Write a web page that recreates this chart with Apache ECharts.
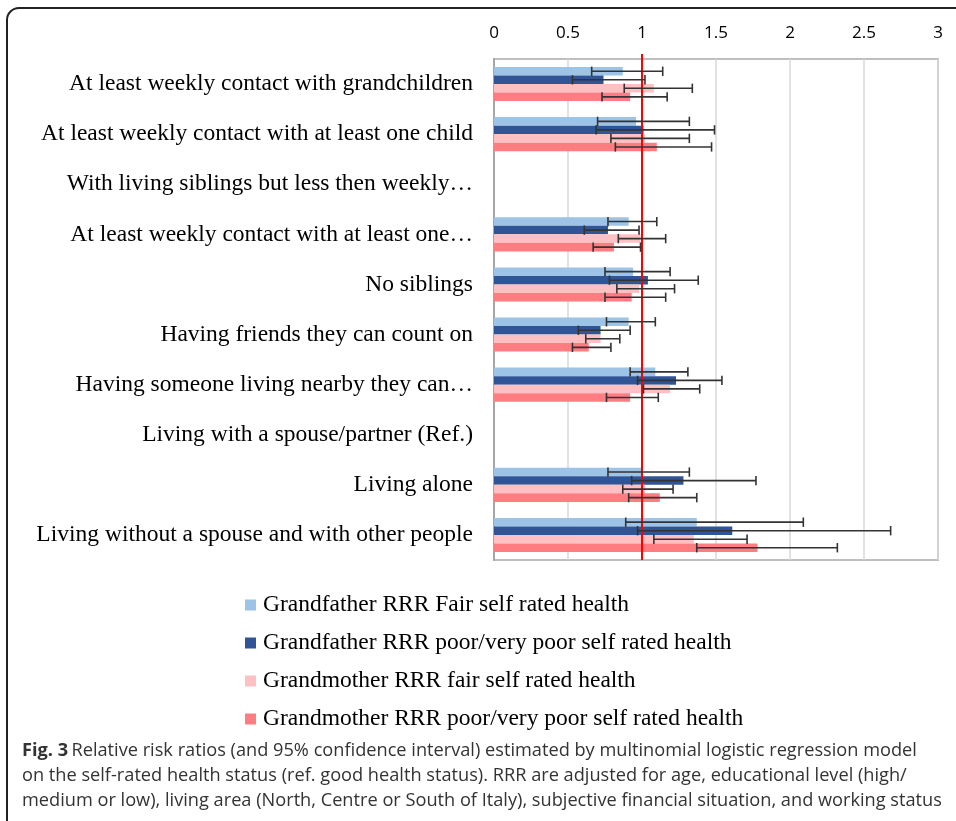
<!DOCTYPE html>
<html><head><meta charset="utf-8">
<script src="https://cdn.jsdelivr.net/npm/echarts@6/dist/echarts.min.js"></script>
<style>html,body{margin:0;padding:0;background:#fff}#c{width:956px;height:821px}</style>
</head><body><div id="c"></div>
<script>
const categories = [
  "At least weekly contact with grandchildren",
  "At least weekly contact with at least one child",
  "With living siblings but less then weekly…",
  "At least weekly contact with at least one…",
  "No siblings",
  "Having friends they can count on",
  "Having someone living nearby they can…",
  "Living with a spouse/partner (Ref.)",
  "Living alone",
  "Living without a spouse and with other people"
];
const xTicks = [0, 0.5, 1, 1.5, 2, 2.5, 3];
const seriesNames = [
  "Grandfather RRR Fair self rated health",
  "Grandfather RRR poor/very poor self rated health",
  "Grandmother RRR fair self rated health",
  "Grandmother RRR poor/very poor self rated health"
];
const gfFair     = [0.87, 0.96, null, 0.91, 0.94, 0.91, 1.09, null, 1.00, 1.37];
const gfFairLow  = [0.66, 0.70, null, 0.77, 0.75, 0.76, 0.92, null, 0.77, 0.89];
const gfFairHigh = [1.14, 1.32, null, 1.10, 1.19, 1.09, 1.31, null, 1.32, 2.09];
const gfPoor     = [0.74, 1.01, null, 0.77, 1.04, 0.72, 1.23, null, 1.28, 1.61];
const gfPoorLow  = [0.53, 0.69, null, 0.61, 0.78, 0.57, 0.97, null, 0.93, 0.97];
const gfPoorHigh = [1.02, 1.49, null, 0.98, 1.38, 0.92, 1.54, null, 1.77, 2.68];
const gmFair     = [1.08, 1.02, null, 0.99, 0.98, 0.72, 1.19, null, 1.02, 1.35];
const gmFairLow  = [0.88, 0.79, null, 0.84, 0.83, 0.62, 1.01, null, 0.87, 1.08];
const gmFairHigh = [1.34, 1.32, null, 1.16, 1.22, 0.85, 1.39, null, 1.21, 1.71];
const gmPoor     = [0.92, 1.10, null, 0.81, 0.93, 0.64, 0.92, null, 1.12, 1.78];
const gmPoorLow  = [0.73, 0.82, null, 0.67, 0.75, 0.53, 0.76, null, 0.91, 1.37];
const gmPoorHigh = [1.17, 1.47, null, 0.99, 1.16, 0.79, 1.11, null, 1.37, 2.32];
const refValue = 1;

const values = [gfFair, gfPoor, gmFair, gmPoor];
const lows = [gfFairLow, gfPoorLow, gmFairLow, gmPoorLow];
const highs = [gfFairHigh, gfPoorHigh, gmFairHigh, gmPoorHigh];
const colors = ['#9DC3E6', '#2F5597', '#FFC0C4', '#FF7C80'];
const catGap = 0.32;

const chart = echarts.init(document.getElementById('c'));
const series = [];
values.forEach((v, i) => {
  series.push({
    name: seriesNames[i], type: 'bar', data: v,
    barGap: 0, barCategoryGap: (catGap * 100) + '%',
    itemStyle: { color: colors[i] }, z: 2
  });
});
series.push({
  type: 'custom', name: 'ref', z: 3, clip: false,
  data: [[refValue, 0]],
  renderItem: function (params, api) {
    const p = api.coord([api.value(0), 0]);
    const cs = params.coordSys;
    return { type: 'line', shape: { x1: p[0], y1: cs.y - 5, x2: p[0], y2: cs.y + cs.height },
      style: { stroke: '#FF0000', lineWidth: 2 } };
  }
});
values.forEach((v, i) => {
  const d = [];
  lows[i].forEach((lo, k) => { if (lo != null) d.push([k, lo, highs[i][k]]); });
  series.push({
    type: 'custom', name: 'err' + i, z: 4,
    encode: { x: [1, 2], y: 0 },
    data: d,
    renderItem: function (params, api) {
      const k = api.value(0);
      const a = api.coord([api.value(1), k]);
      const b = api.coord([api.value(2), k]);
      const band = api.size([0, 1])[1];
      const bw = band * (1 - catGap) / 4;
      const y = a[1] - band * (1 - catGap) / 2 + bw * (i + 0.5);
      const h = bw * 0.55;
      const st = { stroke: '#333333', lineWidth: 1.6 };
      return { type: 'group', children: [
        { type: 'line', shape: { x1: a[0], y1: y, x2: b[0], y2: y }, style: st },
        { type: 'line', shape: { x1: a[0], y1: y - h, x2: a[0], y2: y + h }, style: st },
        { type: 'line', shape: { x1: b[0], y1: y - h, x2: b[0], y2: y + h }, style: st }
      ]};
    }
  });
});

const captionFont = '18.2px "Open Sans", sans-serif';
chart.setOption({
  animation: false,
  backgroundColor: '#fff',
  grid: { left: 494, top: 59, right: 18, bottom: 261, show: true, borderColor: '#bfbfbf', borderWidth: 2 },
  xAxis: {
    type: 'value', position: 'top', min: xTicks[0], max: xTicks[xTicks.length - 1], interval: 0.5,
    axisLine: { show: false }, axisTick: { show: false },
    splitLine: { lineStyle: { color: '#d9d9d9', width: 1.5 } },
    axisLabel: { margin: 17, fontSize: 17, color: '#000', fontFamily: '"Liberation Sans Narrow", "Open Sans", sans-serif' }
  },
  yAxis: {
    type: 'category', data: categories, inverse: true,
    axisTick: { show: false },
    axisLine: { show: true, lineStyle: { color: '#a6a6a6', width: 2 } },
    axisLabel: { margin: 21, fontSize: 23.5, color: '#000', fontFamily: '"Liberation Serif", "Times New Roman", serif' }
  },
  legend: {
    data: seriesNames, orient: 'vertical', left: 240, top: 588,
    itemWidth: 11, itemHeight: 11, itemGap: 14, icon: 'rect',
    textStyle: { fontSize: 23.5, color: '#000', fontFamily: '"Liberation Serif", "Times New Roman", serif', padding: [0, 0, 0, 2] }
  },
  graphic: [
    { type: 'rect', shape: { x: 7, y: 8, width: 1000, height: 900, r: 12 }, style: { fill: 'none', stroke: '#222', lineWidth: 2 }, silent: true },
    { type: 'text', left: 22, top: 742, style: { rich: { b: { font: 'bold 18.2px "Open Sans", sans-serif', fill: '#333' }, n: { font: captionFont, fill: '#333' } },
      text: '{b|Fig. 3} {n|Relative risk ratios (and 95% confidence interval) estimated by multinomial logistic regression model}' } },
    { type: 'text', left: 22, top: 767, style: { font: captionFont, fill: '#333',
      text: 'on the self-rated health status (ref. good health status). RRR are adjusted for age, educational level (high/' } },
    { type: 'text', left: 22, top: 792, style: { font: captionFont, fill: '#333',
      text: 'medium or low), living area (North, Centre or South of Italy), subjective financial situation, and working status' } }
  ],
  series: series
});
</script></body></html>
